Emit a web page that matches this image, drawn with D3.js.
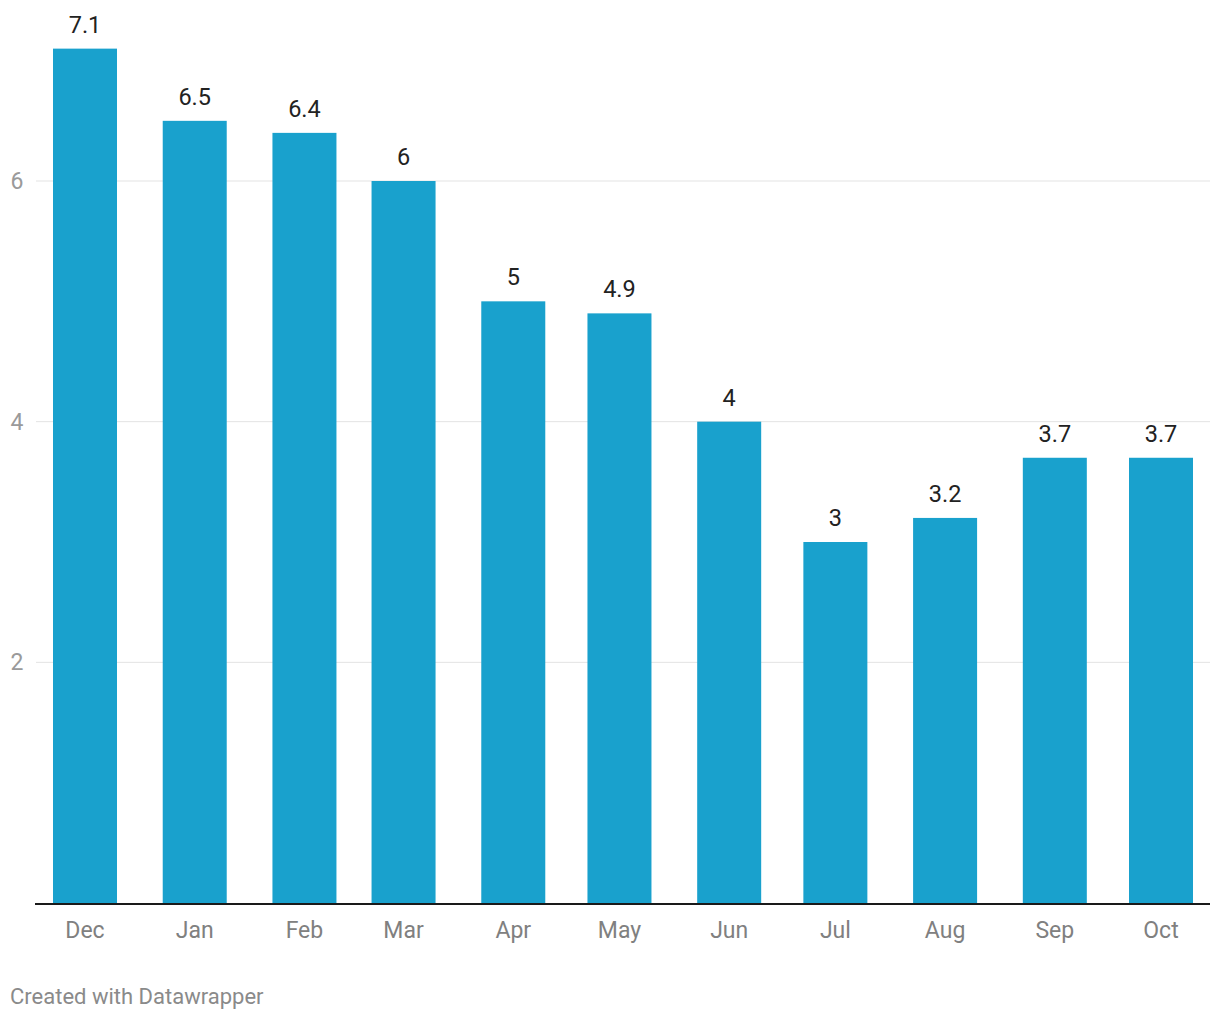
<!DOCTYPE html>
<html><head><meta charset="utf-8">
<script src="https://cdn.jsdelivr.net/npm/d3@7"></script>
<style>body{margin:0;background:#fff;font-family:Roboto,"Noto Sans",sans-serif;}</style>
</head><body><svg id="c" width="1220" height="1020"></svg>
<script>
const months = ["2022-12-01","2023-01-01","2023-02-01","2023-03-01","2023-04-01","2023-05-01","2023-06-01","2023-07-01","2023-08-01","2023-09-01","2023-10-01"];
const monthLabels = ["Dec","Jan","Feb","Mar","Apr","May","Jun","Jul","Aug","Sep","Oct"];
const values = [7.1,6.5,6.4,6,5,4.9,4,3,3.2,3.7,3.7];
const yTicks = [2,4,6];

const svg = d3.select("#c");
const parse = d3.timeParse("%Y-%m-%d");
const dates = months.map(parse);
const x = d3.scaleTime().domain([dates[0], dates[dates.length-1]]).range([85, 1161]);
const y = d3.scaleLinear().domain([0, 6]).range([903, 181]);
const bw = 64;

// grid
const g = svg.append("g");
g.selectAll("line.grid").data(yTicks).join("line")
  .attr("x1", 36).attr("x2", 1210)
  .attr("y1", d => y(d)).attr("y2", d => y(d))
  .attr("stroke", "#e3e3e3").attr("stroke-width", 1);
g.selectAll("text.yt").data(yTicks).join("text")
  .attr("x", 17).attr("y", d => y(d)).attr("dy", "0.35em")
  .attr("text-anchor", "middle").attr("fill", "#9a9a9a")
  .attr("font-size", 23).text(d => d);

// bars
svg.selectAll("rect.bar").data(values).join("rect")
  .attr("x", (d,i) => x(dates[i]) - bw/2).attr("width", bw)
  .attr("y", d => y(d)).attr("height", d => y(0) - y(d))
  .attr("fill", "#19a1cd");

// value labels
svg.selectAll("text.val").data(values).join("text")
  .attr("x", (d,i) => x(dates[i])).attr("y", d => y(d) - 16)
  .attr("text-anchor", "middle").attr("fill", "#222")
  .attr("font-size", 23.5).text(d => d);

// baseline
svg.append("line").attr("x1", 35).attr("x2", 1210)
  .attr("y1", y(0)+1).attr("y2", y(0)+1)
  .attr("stroke", "#1a1a1a").attr("stroke-width", 2);

// x labels
svg.selectAll("text.xl").data(monthLabels).join("text")
  .attr("x", (d,i) => x(dates[i])).attr("y", 938)
  .attr("text-anchor", "middle").attr("fill", "#808080")
  .attr("font-size", 23).text(d => d);

// footer
svg.append("text").attr("x", 10).attr("y", 1004)
  .attr("fill", "#8a8a8a").attr("font-size", 22).text("Created with Datawrapper");
</script></body></html>
